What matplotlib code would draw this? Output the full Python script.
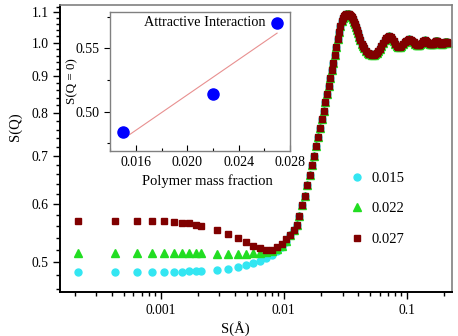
import numpy as np
import matplotlib
matplotlib.use('Agg')
import matplotlib.pyplot as plt
from matplotlib.ticker import FixedLocator, NullFormatter, MultipleLocator, FormatStrFormatter

plt.rcParams['font.family'] = ['Liberation Serif', 'DejaVu Serif']

# low-q points, first grid (all three series)
q_a = [0.000213, 0.000426, 0.000639, 0.000852, 0.001065, 0.001278, 0.001491, 0.001704, 0.001917, 0.00213]
s015_a = [0.484, 0.484, 0.484, 0.484, 0.485, 0.485, 0.485, 0.486, 0.486, 0.486]
s022_a = [0.514, 0.514, 0.514, 0.514, 0.514, 0.514, 0.514, 0.514, 0.514, 0.514]
s027_a = [0.570, 0.570, 0.570, 0.569, 0.569, 0.567, 0.566, 0.565, 0.563, 0.561]

# second grid, before the curves merge
q_b = [0.00285, 0.00354, 0.00427, 0.00494, 0.00566, 0.00641, 0.00718, 0.00799, 0.00877, 0.00963, 0.01050]
s015_b = [0.487, 0.489, 0.492, 0.495, 0.498, 0.502, 0.507, 0.512, 0.518, 0.524, 0.533]
s022_b = [0.513, 0.513, 0.513, 0.513, 0.514, 0.515, 0.516, 0.518, 0.521, 0.526, 0.535]
s027_b = [0.554, 0.547, 0.540, 0.533, 0.526, 0.522, 0.520, 0.520, 0.524, 0.530, 0.538]

# common part (all series overlap)
q_c = [0.0113, 0.0120, 0.0127, 0.0134, 0.0141, 0.0148, 0.0155, 0.0162, 0.0169, 0.0176,
       0.0183, 0.0190, 0.0197, 0.0204, 0.0211, 0.0218, 0.0225, 0.0232, 0.0239, 0.0246,
       0.0253, 0.0260, 0.0267, 0.0274, 0.0281, 0.0288, 0.0295, 0.0302, 0.0309, 0.0316,
       0.0323, 0.0330, 0.0337, 0.0344, 0.0351, 0.0358, 0.0365, 0.0372, 0.0379, 0.0386,
       0.0393, 0.0400, 0.0410, 0.0420, 0.0430, 0.0440, 0.0450, 0.0465, 0.0480, 0.0495,
       0.0510, 0.0525, 0.0540, 0.0555, 0.0570, 0.0585, 0.0600, 0.0620, 0.0640, 0.0660,
       0.0680, 0.0700, 0.0720, 0.0740, 0.0760, 0.0780, 0.0800, 0.0825, 0.0850, 0.0875,
       0.0900, 0.0930, 0.0960, 0.0990, 0.1020, 0.1050, 0.1080, 0.1110, 0.1140, 0.1170,
       0.1200, 0.1230, 0.1260, 0.1290, 0.1320, 0.1350, 0.1380, 0.1410, 0.1440, 0.1470,
       0.1500, 0.1530, 0.1560, 0.1590, 0.1620, 0.1650, 0.1680, 0.1710, 0.1740, 0.1770,
       0.1800, 0.1840, 0.1880, 0.1920, 0.1960, 0.2000, 0.2040, 0.2080, 0.2120, 0.2160]
s_c = [0.544, 0.553, 0.563, 0.578, 0.598, 0.617, 0.638, 0.658, 0.679, 0.700,
       0.721, 0.742, 0.763, 0.785, 0.806, 0.828, 0.850, 0.872, 0.894, 0.916,
       0.939, 0.962, 0.987, 1.012, 1.035, 1.054, 1.069, 1.080, 1.087, 1.091,
       1.093, 1.094, 1.094, 1.092, 1.089, 1.083, 1.076, 1.068, 1.060, 1.050,
       1.040, 1.030, 1.018, 1.007, 0.997, 0.989, 0.982, 0.975, 0.969, 0.966,
       0.964, 0.963, 0.963, 0.965, 0.969, 0.974, 0.980, 0.989, 0.999, 1.008,
       1.015, 1.019, 1.020, 1.017, 1.011, 1.004, 0.997, 0.990, 0.987, 0.987,
       0.990, 0.996, 1.002, 1.006, 1.009, 1.010, 1.009, 1.006, 1.001, 0.996,
       0.993, 0.992, 0.993, 0.996, 1.000, 1.004, 1.006, 1.007, 1.006, 1.003,
       0.999, 0.996, 0.995, 0.995, 0.997, 1.000, 1.003, 1.005, 1.005, 1.004,
       1.002, 0.999, 0.997, 0.997, 0.998, 1.000, 1.002, 1.002, 1.001, 0.999]

# inset data
frac = [0.015, 0.022, 0.027]
s_q0 = [0.4837, 0.514, 0.5697]
fit_range = [0.0155, 0.027]

fig = plt.figure(figsize=(4.58, 3.36), dpi=100)
ax = fig.add_axes([0.132, 0.131, 0.855, 0.854])

series = [
    (s015_a, s015_b, 'o', '#33e6f2', 5.0, '0.015'),
    (s022_a, s022_b, '^', '#22dd22', 5.5, '0.022'),
    (s027_a, s027_b, 's', '#800000', 4.6, '0.027'),
]
for sa, sb, m, c, ms, lab in series:
    q = q_a + q_b + q_c
    s = sa + sb + s_c
    ax.plot(q, s, ls='none', marker=m, color=c, ms=ms, mec=c, label=lab)

ax.set_xscale('log')
ax.set_yscale('log')
ax.set_xlim(1.53e-4, 0.233)
ax.set_ylim(0.455, 1.126)

ax.set_xticks([0.001, 0.01, 0.1])
ax.set_xticklabels(['0.001', '0.01', '0.1'])
yt = [0.5, 0.6, 0.7, 0.8, 0.9, 1.0, 1.1]
ax.yaxis.set_major_locator(FixedLocator(yt))
ax.set_yticklabels(['0.5', '0.6', '0.7', '0.8', '0.9', '1.0', '1.1'])
ax.yaxis.set_minor_locator(FixedLocator([v for v in np.arange(0.46, 1.125, 0.02)]))
ax.yaxis.set_minor_formatter(NullFormatter())
ax.xaxis.set_minor_formatter(NullFormatter())
ax.tick_params(which='both', direction='out', labelsize=9.8, width=1.0)
ax.tick_params(which='major', length=5)
ax.tick_params(which='minor', length=3)

for side in ['top', 'right']:
    ax.spines[side].set_color('#808080')
    ax.spines[side].set_linewidth(1.2)
for side in ['left', 'bottom']:
    ax.spines[side].set_linewidth(1.4)

ax.set_xlabel('S(Å)', fontsize=10.5)
ax.xaxis.set_label_coords(0.4457, -0.1)
ax.set_ylabel('S(Q)', fontsize=10.5)
ax.yaxis.set_label_coords(-0.098, 0.575)

ax.legend(loc='upper left', bbox_to_anchor=(0.7226, 0.44), frameon=False,
          handlelength=1.0, handletextpad=0.5, labelspacing=1.2,
          fontsize=10.5, borderaxespad=0)

# inset
ax2 = fig.add_axes([0.240, 0.5515, 0.393, 0.4137])
a, b = np.polyfit(frac, s_q0, 1)
ax2.plot(fit_range, [a * x + b for x in fit_range], color='#e89090', lw=0.8)
ax2.plot(frac, s_q0, 'o', color='#0000ff', ms=8)
ax2.set_xlim(0.01397, 0.028)
ax2.set_ylim(0.469, 0.579)
ax2.set_xticks([0.016, 0.020, 0.024, 0.028])
ax2.xaxis.set_major_formatter(FormatStrFormatter('%.3f'))
ax2.xaxis.set_minor_locator(MultipleLocator(0.002))
ax2.set_yticks([0.50, 0.55])
ax2.yaxis.set_major_formatter(FormatStrFormatter('%.2f'))
ax2.yaxis.set_minor_locator(MultipleLocator(0.025))
ax2.tick_params(axis='x', which='both', direction='in')
ax2.tick_params(axis='y', which='both', direction='out')
ax2.tick_params(which='both', labelsize=10, width=0.8)
ax2.tick_params(which='major', length=4)
ax2.tick_params(which='minor', length=2)
for sp in ax2.spines.values():
    sp.set_color('#808080')
    sp.set_linewidth(1.0)
ax2.text(0.19, 0.92, 'Attractive Interaction', transform=ax2.transAxes,
         ha='left', va='center', fontsize=10.3)
ax2.set_xlabel('Polymer mass fraction', fontsize=10.5)
ax2.xaxis.set_label_coords(0.542, -0.17)
ax2.set_ylabel('S(Q = 0)', fontsize=9.4)
ax2.yaxis.set_label_coords(-0.175, 0.50)

fig.savefig('out.png', dpi=100)
